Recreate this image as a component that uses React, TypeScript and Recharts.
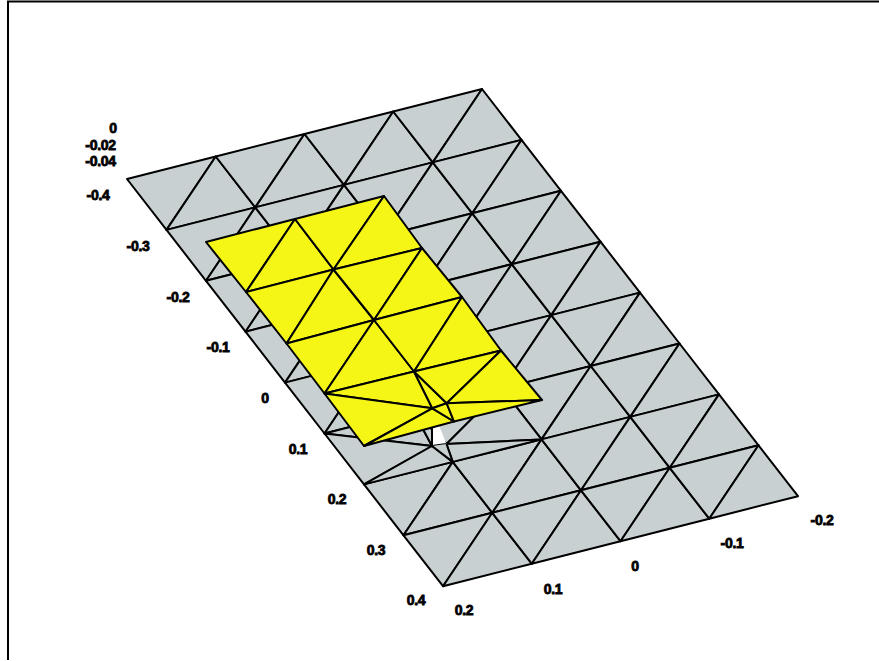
import React from 'react';
import { ScatterChart, Scatter, XAxis, YAxis } from 'recharts';

// Lower (grey) plate: picture-plane node positions, one list per row of the mesh.
const plateRowsX = [
  [127, 215.75, 304.5, 393.25, 482],
  [166.5, 255.25, 344, 432.75, 521.5],
  [206, 294.75, 383.5, 472.25, 561],
  [245.5, 334.25, 423, 511.75, 600.5],
  [285, 373.75, 462.5, 551.25, 640],
  [324.5, 413.25, 502, 590.75, 679.5],
  [364, 452.75, 541.5, 630.25, 719],
  [403.5, 492.25, 581, 669.75, 758.5],
  [443, 531.75, 620.5, 709.25, 798],
];
const plateRowsY = [
  [179, 156.5, 134, 111.5, 89],
  [229.9, 207.4, 184.9, 162.4, 139.9],
  [280.8, 258.3, 235.8, 213.3, 190.8],
  [331.7, 309.2, 286.7, 264.2, 241.7],
  [382.6, 360.1, 337.6, 315.1, 292.6],
  [433.5, 411, 388.5, 366, 343.5],
  [484.4, 461.9, 439.4, 416.9, 394.4],
  [535.3, 512.8, 490.3, 467.8, 445.3],
  [586.2, 563.7, 541.2, 518.7, 496.2],
];
// Refined nodes of the lower plate [x, y]
const plateExtraA = [432, 446];
const plateExtraB = [446.5, 444];
const holeApex = [432, 408];

// Upper (yellow) plate
const topRowsX = [
  [206, 295, 384],
  [246, 333.5, 422],
  [286.5, 374, 462],
  [324.5, 414, 501],
  [364, 454, 542],
];
const topRowsY = [
  [242, 219, 196],
  [292, 269.5, 248],
  [343.5, 320, 297],
  [393.5, 371.5, 350.5],
  [446, 421.5, 400],
];
const topExtraA = [432.3, 408.3];
const topExtraB = [446.7, 403.3];

const xTicks = ['0.2', '0.1', '0', '-0.1', '-0.2'];
const xTickX = [464, 553, 635, 732, 822];
const xTickY = [610, 589, 566, 543, 520];
const yTicks = ['-0.4', '-0.3', '-0.2', '-0.1', '0', '0.1', '0.2', '0.3', '0.4'];
const yTickX = [98, 138, 178, 218, 265, 298, 337, 376, 416];
const yTickY = [195, 246, 297, 347, 398, 449, 499, 550, 600];
const zTicks = ['0', '-0.02', '-0.04'];
const zTickX = [113, 100.5, 100.5];
const zTickY = [128, 145, 161];

const frameX = [879, 8, 8];
const frameY = [1.5, 1.5, 660];

type Pt = { x: number; y: number };
type Tri = Pt[];
const pt = (p: number[]): Pt => ({ x: p[0], y: p[1] });
const nodeOf = (xs: number[][], ys: number[][]) => (r: number, c: number): Pt => ({ x: xs[r][c], y: ys[r][c] });

const P = nodeOf(plateRowsX, plateRowsY);
const T = nodeOf(topRowsX, topRowsY);
const pa = pt(plateExtraA);
const pb = pt(plateExtraB);
const ta = pt(topExtraA);
const tb = pt(topExtraB);

const plateTris: Tri[] = [];
for (let r = 0; r < 8; r++) {
  for (let c = 0; c < 4; c++) {
    if (r === 5 && c < 2) continue;
    plateTris.push([P(r, c), P(r, c + 1), P(r + 1, c)]);
    plateTris.push([P(r, c + 1), P(r + 1, c + 1), P(r + 1, c)]);
  }
}
plateTris.push(
  [P(5, 0), P(5, 1), pa],
  [P(5, 0), pa, P(6, 0)],
  [P(6, 0), pa, P(6, 1)],
  [P(5, 1), P(5, 2), pb],
  [P(5, 2), P(6, 2), pb],
  [pb, P(6, 2), P(6, 1)],
  [P(5, 1), pb, pa],
);

const topTris: Tri[] = [];
for (let r = 0; r < 3; r++) {
  for (let c = 0; c < 2; c++) {
    topTris.push([T(r, c), T(r, c + 1), T(r + 1, c)]);
    topTris.push([T(r, c + 1), T(r + 1, c + 1), T(r + 1, c)]);
  }
}
topTris.push(
  [T(3, 0), T(3, 1), ta],
  [T(3, 0), ta, T(4, 0)],
  [T(4, 0), ta, T(4, 1)],
  [T(3, 1), tb, ta],
  [ta, tb, T(4, 1)],
  [T(3, 1), T(3, 2), tb],
  [T(3, 2), T(4, 2), tb],
  [tb, T(4, 2), T(4, 1)],
);

const GREY = '#c8d0d2';
const YELLOW = '#f5f516';
const MESH_WIDTH = 2;

const polygon = (fill: string) => (props: any) => (
  <polygon
    points={props.points.map((p: Pt) => `${p.x},${p.y}`).join(' ')}
    fill={fill}
    stroke="#000"
    strokeWidth={MESH_WIDTH}
    strokeLinejoin="round"
  />
);
const polyline = (width: number, fill = 'none') => (props: any) => (
  <polyline
    points={props.points.map((p: Pt) => `${p.x},${p.y}`).join(' ')}
    fill={fill}
    stroke="#000"
    strokeWidth={width}
  />
);
const noMark = () => <g />;

const tickShape = (props: any) => (
  <text
    x={props.cx}
    y={props.cy}
    textAnchor="middle"
    dominantBaseline="central"
    fontFamily="Liberation Sans, Arial, sans-serif"
    fontWeight="bold"
    fontSize={14}
    letterSpacing={-0.3}
    fill="#000"
    stroke="#000"
    strokeWidth={0.8}
  >
    {props.payload.label}
  </text>
);

const tickData = (labels: string[], xs: number[], ys: number[]) =>
  labels.map((label, i) => ({ x: xs[i], y: ys[i], label }));

const frameData = frameX.map((x, i) => ({ x, y: frameY[i] }));
const holeData = [pt(holeApex), pa, pb];
const underHoleData = [pa, P(6, 1), pb];

export default function App() {
  return (
    <div style={{ position: 'absolute', left: 0, top: 0, width: 879, height: 661, background: '#fff' }}>
      <ScatterChart width={879} height={661} margin={{ top: 0, right: 0, bottom: 0, left: 0 }}>
        <XAxis type="number" dataKey="x" domain={[0, 879]} hide />
        <YAxis type="number" dataKey="y" domain={[0, 661]} reversed hide />
        <Scatter data={frameData} line={polyline(2)} shape={noMark} isAnimationActive={false} />
        {plateTris.map((t, i) => (
          <Scatter key={`p${i}`} data={t} line={polygon(GREY)} shape={noMark} isAnimationActive={false} />
        ))}
        <Scatter data={holeData} line={polyline(MESH_WIDTH, '#fff')} shape={noMark} isAnimationActive={false} />
        <Scatter data={underHoleData} line={polyline(MESH_WIDTH, GREY)} shape={noMark} isAnimationActive={false} />
        {topTris.map((t, i) => (
          <Scatter key={`t${i}`} data={t} line={polygon(YELLOW)} shape={noMark} isAnimationActive={false} />
        ))}
        <Scatter data={tickData(xTicks, xTickX, xTickY)} shape={tickShape} isAnimationActive={false} />
        <Scatter data={tickData(yTicks, yTickX, yTickY)} shape={tickShape} isAnimationActive={false} />
        <Scatter data={tickData(zTicks, zTickX, zTickY)} shape={tickShape} isAnimationActive={false} />
      </ScatterChart>
    </div>
  );
}
